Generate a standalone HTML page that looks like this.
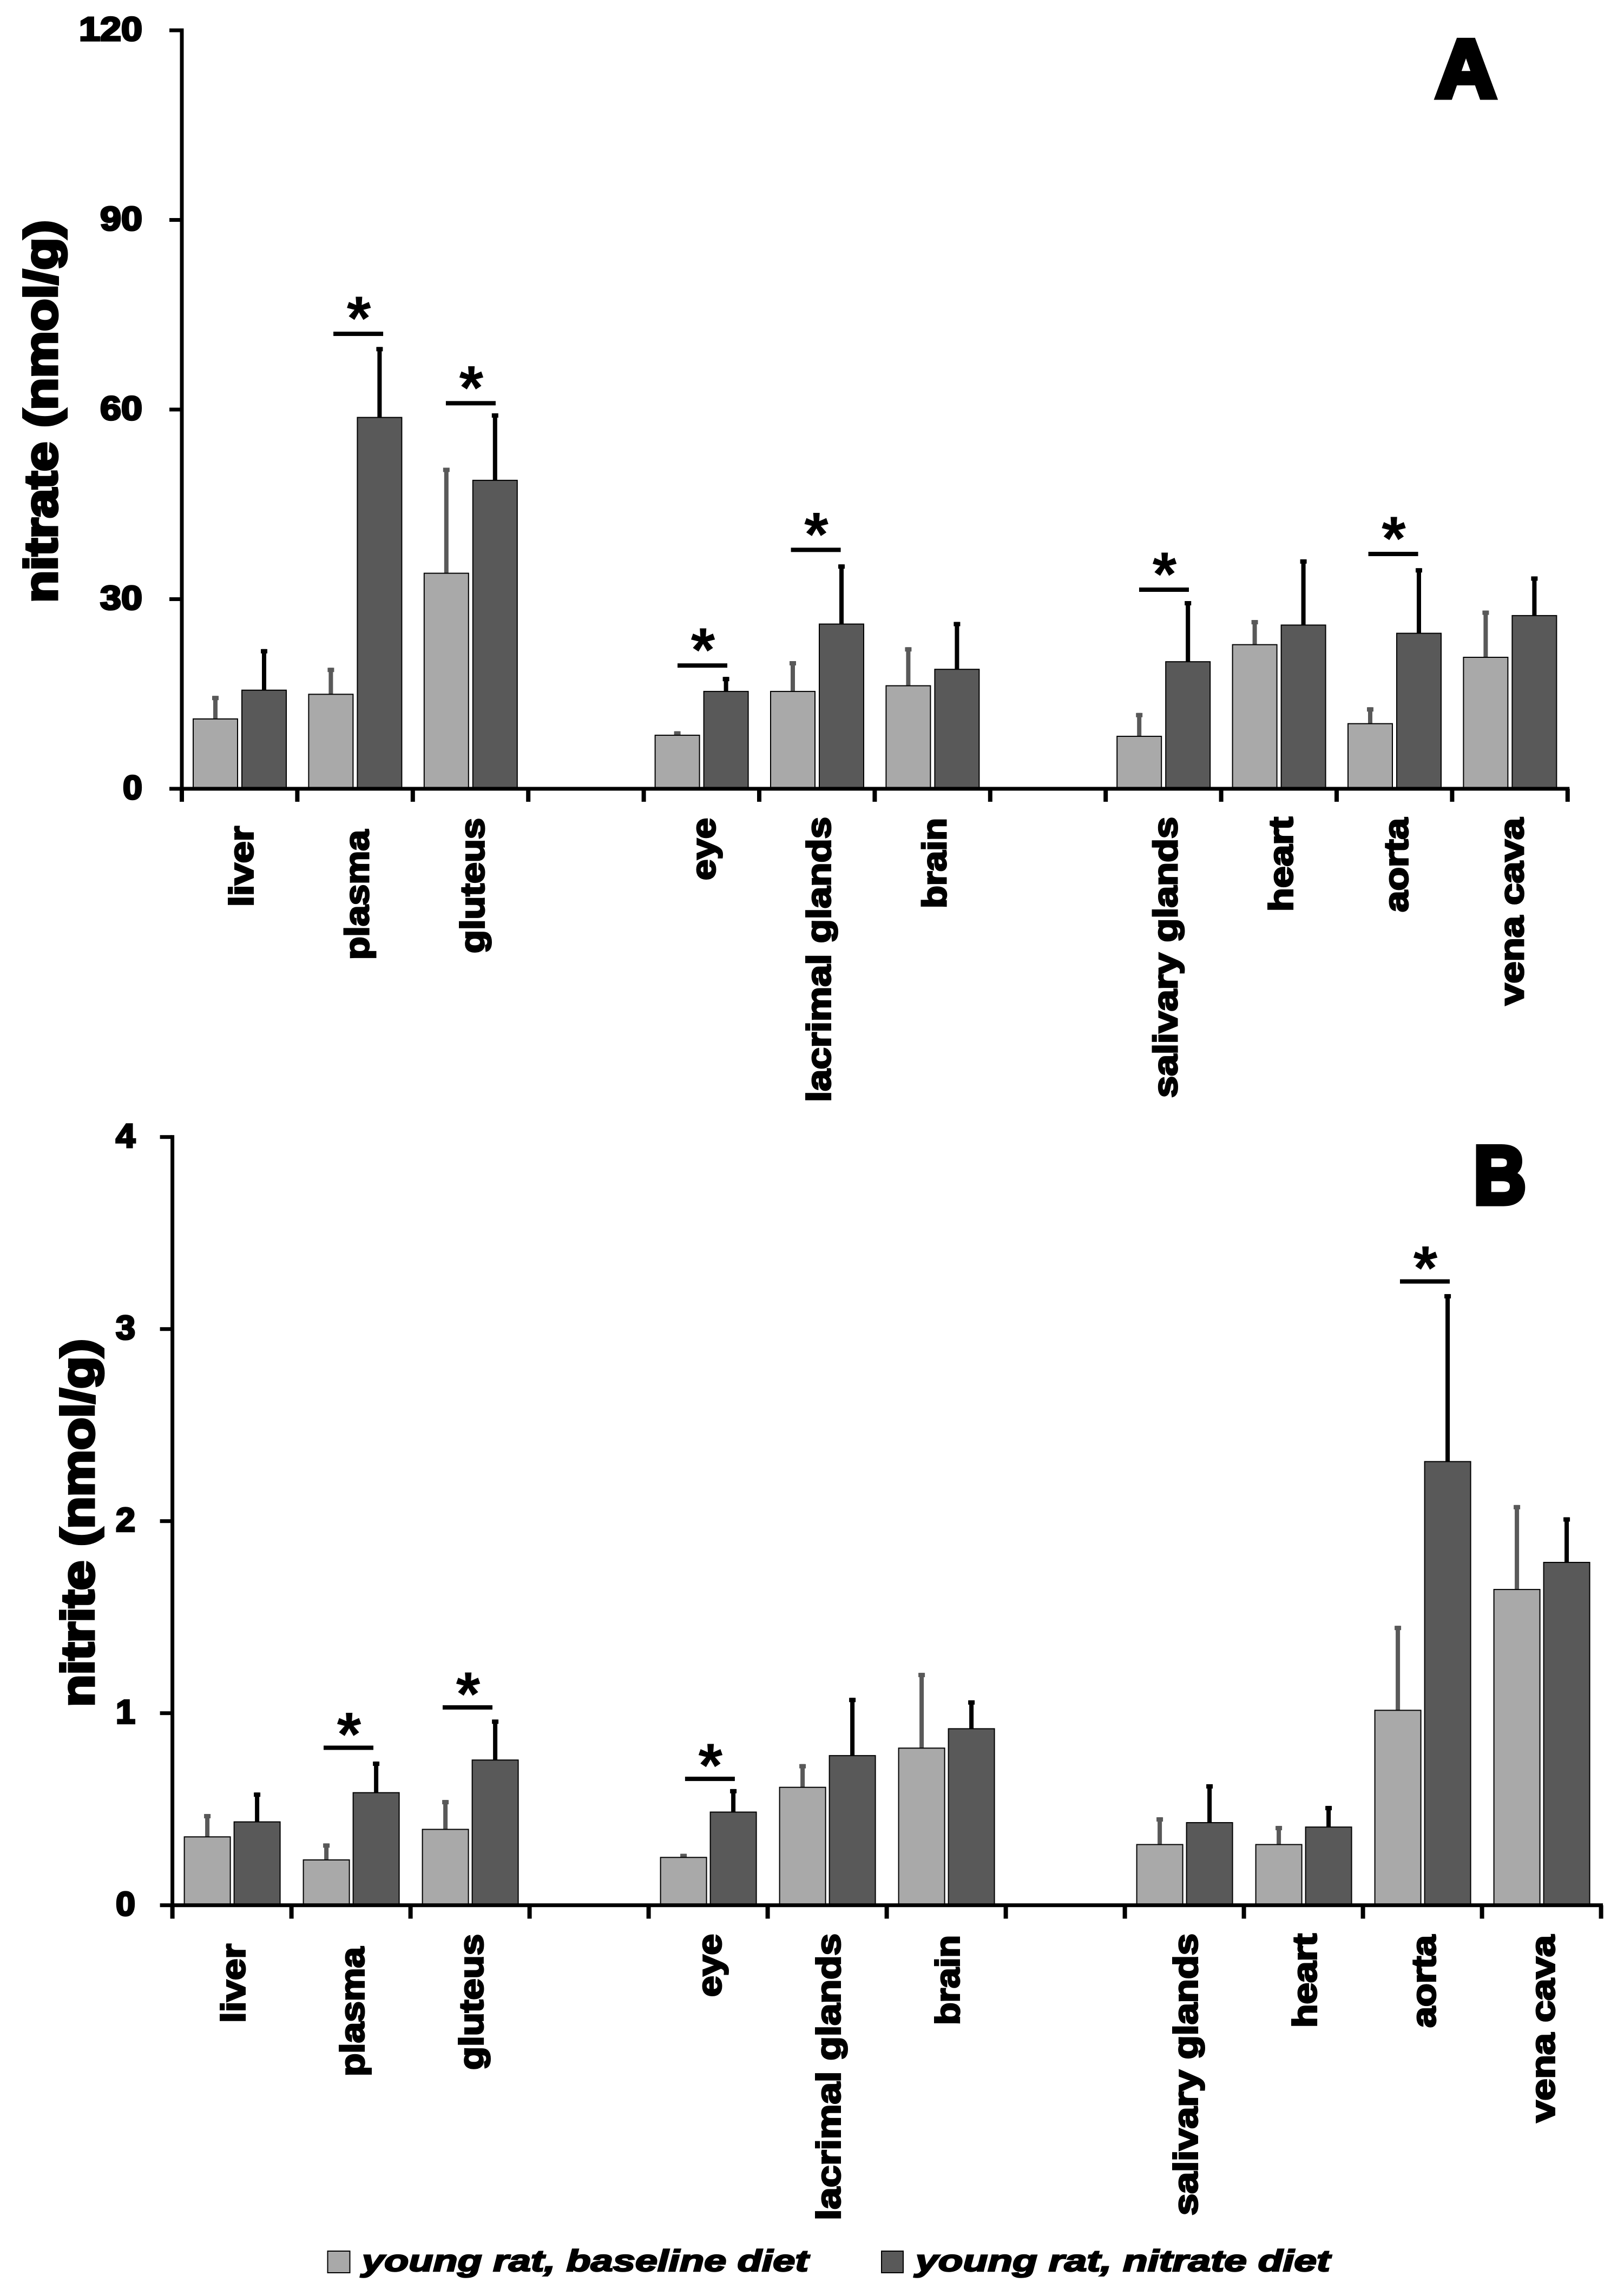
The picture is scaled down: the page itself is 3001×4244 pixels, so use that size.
<!DOCTYPE html>
<html lang="en">
<head>
<meta charset="utf-8">
<title>Nitrate and nitrite tissue levels</title>
<style>
html,body{margin:0;padding:0;background:#fff;}
svg{display:block;}
text{font-family:"Liberation Sans",sans-serif;font-weight:bold;fill:#000;stroke:#000;}
</style>
</head>
<body>
<svg id="figure" xmlns="http://www.w3.org/2000/svg" width="3001" height="4244" viewBox="0 0 3001 4244">
  <rect x="0" y="0" width="3001" height="4244" fill="#fff"/>
  <text x="2653" y="179.5" font-size="152" stroke-width="10" textLength="112" lengthAdjust="spacingAndGlyphs">A</text>
  <text x="2723" y="2224.6" font-size="152" stroke-width="10" textLength="97" lengthAdjust="spacingAndGlyphs">B</text>
  <text transform="translate(105,1114) rotate(-90)" x="0" y="0" font-size="84" stroke-width="5" textLength="707" lengthAdjust="spacingAndGlyphs">nitrate (nmol/g)</text>
  <text transform="translate(173,3155) rotate(-90)" x="0" y="0" font-size="84" stroke-width="5" textLength="680" lengthAdjust="spacingAndGlyphs">nitrite (nmol/g)</text>
  <rect x="605.5" y="4161" width="41" height="40" fill="#a9a9a9" stroke="#000" stroke-width="2"/>
  <text x="669" y="4198" font-size="56" font-style="italic" stroke-width="2.5" textLength="825" lengthAdjust="spacingAndGlyphs">young rat, baseline diet</text>
  <rect x="1629" y="4161" width="40" height="40" fill="#595959" stroke="#000" stroke-width="2"/>
  <text x="1692" y="4198" font-size="56" font-style="italic" stroke-width="2.5" textLength="766" lengthAdjust="spacingAndGlyphs">young rat, nitrate diet</text>
</svg>
<script>
// Shared category axis (blank slots are the gaps between tissue groups)
const categories = ['liver','plasma','gluteus','','eye','lacrimal glands','brain','','salivary glands','heart','aorta','vena cava'];

// Panel A: nitrate (nmol/g)
const nitrateTicks = [0,30,60,90,120];
const nitrateBaseline = [11.05,14.95,34.1,null,8.47,15.4,16.3,null,8.3,22.8,10.3,20.8];
const nitrateBaselineUpper = [14.7,19.15,50.8,null,9.1,20.2,22.4,null,12,26.7,12.9,28.2];
const nitrateDiet = [15.6,58.75,48.8,null,15.4,26.06,18.9,null,20.1,25.9,24.6,27.4];
const nitrateDietUpper = [22.1,69.9,59.4,null,17.7,35.5,26.4,null,29.7,36.3,34.9,33.6];
const nitrateSigCategory = [1.528,2.502,4.508,5.49,8.505,10.49];
const nitrateSigLevel = [71.98,61.0,19.5,37.8,31.5,37.15];
const nitrateLabelTop = [1526,1533,1511,0,1511,1509,1511,0,1509,1509,1511,1511];
const nitrateLabelLength = [151,242,252,0,117,529,169,0,521,177,176,348];

// Panel B: nitrite (nmol/g)
const nitriteTicks = [0,1,2,3,4];
const nitriteBaseline = [0.356,0.236,0.395,null,0.249,0.614,0.818,null,0.316,0.316,1.015,1.644];
const nitriteBaselineUpper = [0.475,0.322,0.548,null,0.268,0.735,1.21,null,0.458,0.413,1.455,2.084];
const nitriteDiet = [0.434,0.586,0.756,null,0.485,0.779,0.919,null,0.43,0.407,2.31,1.785];
const nitriteDietUpper = [0.587,0.748,0.967,null,0.605,1.08,1.067,null,0.63,0.517,3.182,2.02];
const nitriteSigCategory = [1.479,2.479,4.515,10.52];
const nitriteSigLevel = [0.82,1.03,0.658,3.248];
const nitriteLabelTop = [3592,3598,3574,0,3574,3573,3576,0,3573,3573,3576,3576];
const nitriteLabelLength = [148,241,253,0,118,532,168,0,523,176,173,348];

const svg = document.getElementById('figure');
const NS = 'http://www.w3.org/2000/svg';
function make(tag, props){
  const el = document.createElementNS(NS, tag);
  for (const k in props) el.setAttribute(k, props[k]);
  svg.appendChild(el);
  return el;
}
function slug(s){ return s.replace(/\s+/g,'-'); }

function drawPanel(p){
  const y = v => p.y0 - v * p.pxPerUnit;
  const catX = i => p.x0 + i * p.catW;

  // bars and error bars
  function series(values, upper, fill, errColor, offset, width, name){
    values.forEach((v,i) => {
      if (v === null) return;
      const cx = catX(i) + offset + width / 2;
      const top = y(upper[i]);
      const errLine = make('rect',{x:cx-4,y:top,width:8,height:y(v)-top,fill:errColor});
      
      
      const errCap = make('rect',{x:cx-6,y:top,width:12,height:8,fill:errColor});
      
      
      const bar = make('rect',{x:catX(i)+offset,y:y(v),width:width,height:p.y0-y(v),fill:fill,stroke:'#000','stroke-width':2});
      
      
    });
  }
  series(p.baseline, p.baselineUpper, '#a9a9a9', '#595959', p.off1, p.barW, 'baseline');
  series(p.diet, p.dietUpper, '#595959', '#000', p.off2, p.barW, 'nitrate');

  // axes
  const yAxis = make('rect',{x:p.x0-3.5,y:y(p.ticks[p.ticks.length-1])-3.5,width:7,height:p.y0-y(p.ticks[p.ticks.length-1])+7,fill:'#000'});
  
  
  const xAxis = make('rect',{x:p.x0-3.5,y:p.y0-3.5,width:catX(categories.length)-p.x0+7,height:7,fill:'#000'});
  
  

  p.ticks.forEach(t => {
    const mark = make('rect',{x:p.x0-23,y:y(t)-3.5,width:23,height:7,fill:'#000'});
    
    
    const label = String(t);
    const txt = make('text',{x:p.tickEnd,y:y(t)+19,'font-size':62,'stroke-width':3.5,'text-anchor':'end',textLength:label.length*39-(label.length>1?0:3),lengthAdjust:'spacingAndGlyphs'});
    txt.textContent = label;
    
    
  });

  for (let i = 0; i <= categories.length; i++){
    const mark = make('rect',{x:catX(i)-4,y:p.y0,width:8,height:p.tickBottom-p.y0,fill:'#000'});
    
    
  }

  // category labels
  categories.forEach((c,i) => {
    if (!c) return;
    const bx = catX(i) + p.catW/2 + p.labelShift - 1;
    const by = p.labelTop[i] + p.labelLength[i] - 1;
    const txt = make('text',{transform:'translate('+bx+','+by+') rotate(-90)',x:0,y:0,'font-size':62,'stroke-width':3,textLength:p.labelLength[i]-2,lengthAdjust:'spacingAndGlyphs'});
    txt.textContent = c;
    
    
  });

  // significance markers
  p.sigCategory.forEach((c,i) => {
    const cx = p.x0 + c * p.catW;
    const ly = y(p.sigLevel[i]);
    const line = make('rect',{x:cx-46,y:ly-4,width:92,height:8,fill:'#000'});
    
    
    const star = make('text',{x:cx+1,y:ly+p.starDrop,'font-size':115,'stroke-width':0,'text-anchor':'middle'});
    star.textContent = '*';
    
    
  });
}

drawPanel({id:'panel-a',x0:336,catW:213.4,y0:1458,pxPerUnit:11.683,ticks:nitrateTicks,tickEnd:263,tickBottom:1482,
  off1:21,off2:111,barW:82,labelShift:26,starDrop:11,
  baseline:nitrateBaseline,baselineUpper:nitrateBaselineUpper,diet:nitrateDiet,dietUpper:nitrateDietUpper,
  sigCategory:nitrateSigCategory,sigLevel:nitrateSigLevel,labelTop:nitrateLabelTop,labelLength:nitrateLabelLength});

drawPanel({id:'panel-b',x0:318.6,catW:220,y0:3521.7,pxPerUnit:355,ticks:nitriteTicks,tickEnd:250,tickBottom:3546.5,
  off1:22,off2:114,barW:85,labelShift:25,starDrop:15,
  baseline:nitriteBaseline,baselineUpper:nitriteBaselineUpper,diet:nitriteDiet,dietUpper:nitriteDietUpper,
  sigCategory:nitriteSigCategory,sigLevel:nitriteSigLevel,labelTop:nitriteLabelTop,labelLength:nitriteLabelLength});
</script>
</body>
</html>
